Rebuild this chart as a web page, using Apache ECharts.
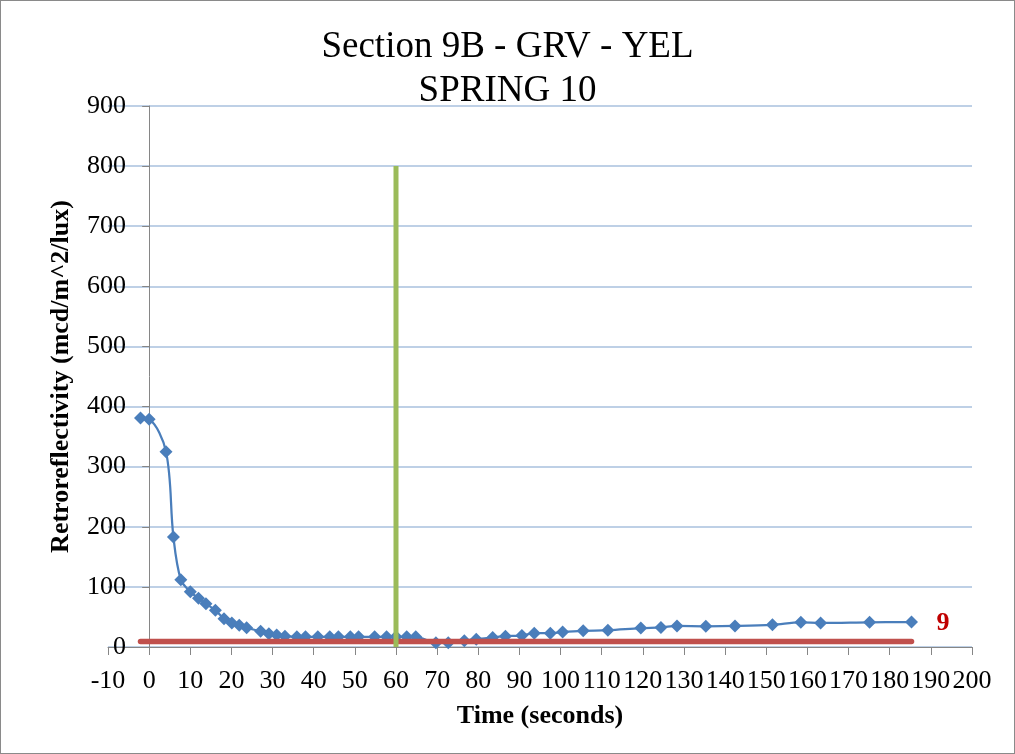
<!DOCTYPE html>
<html>
<head>
<meta charset="utf-8">
<script src="https://cdn.jsdelivr.net/npm/echarts@6/dist/echarts.min.js"></script>
<style>
  html, body { margin: 0; padding: 0; background: #fff; }
  #chart { width: 1015px; height: 754px; box-sizing: border-box; border: 1px solid #8a8a8a; }
</style>
</head>
<body>
<div id="chart"></div>
<script>
// ---- data ----
const titleLines = ["Section 9B - GRV - YEL", "SPRING 10"];
const xAxisTitle = "Time (seconds)";
const yAxisTitle = "Retroreflectivity (mcd/m^2/lux)";

const timeSeconds = [-2.1, 0, 4.1, 5.9, 7.7, 10.0, 12.0, 13.8, 16.1, 18.2, 20.1, 21.9, 23.7, 27.1, 29.1, 31.0,
  33.0, 35.9, 38.0, 41.0, 43.9, 46.0, 48.9, 50.9, 54.8, 57.7, 60.0, 62.6, 64.8, 69.7, 72.7, 76.6, 79.5,
  83.5, 86.6, 90.6, 93.6, 97.5, 100.5, 105.5, 111.5, 119.5, 124.4, 128.3, 135.3, 142.4, 151.5, 158.4,
  163.2, 175.1, 185.3];
const retroValues = [381, 379, 325, 183, 112, 92, 81, 72, 61, 47, 40, 36, 32, 26, 22, 20,
  18, 17, 17, 17, 17, 17, 17, 17, 17, 17, 17, 17, 17, 7, 7, 10.5, 13,
  16, 18, 19, 23, 23, 25, 27, 28, 31.5, 32.6, 35, 34.5, 35, 37, 41,
  40, 41, 41.5];

const thresholdValue = 9;
const thresholdX = [-2.1, 185.3];
const markerTime = 60;
const markerRange = [0, 800];

const xTicks = { min: -10, max: 200, interval: 10 };
const yTicks = { min: 0, max: 900, interval: 100 };

// ---- build chart ----
const serif = "Liberation Serif";
const chart = echarts.init(document.getElementById('chart'), null, { renderer: 'canvas' });

const blueData = timeSeconds.map((t, i) => [t, retroValues[i]]);
const redData = thresholdX.map(t => [t, thresholdValue]);
const greenData = markerRange.map(v => [markerTime, v]);

chart.setOption({
  animation: false,
  backgroundColor: '#ffffff',
  title: {
    text: titleLines.join('\n'),
    left: 'center',
    top: 19,
    textStyle: { fontFamily: serif, fontSize: 37, fontWeight: 'normal', color: '#000', lineHeight: 44 }
  },
  grid: { left: 107, right: 42, top: 105, bottom: 106, containLabel: false, outerBoundsMode: 'none' },
  xAxis: {
    type: 'value',
    min: xTicks.min, max: xTicks.max, interval: xTicks.interval,
    name: xAxisTitle,
    nameLocation: 'middle',
    nameGap: 56,
    nameTextStyle: { fontFamily: serif, fontSize: 26, fontWeight: 'bold', color: '#000' },
    axisLine: { show: true, lineStyle: { color: '#868686', width: 1 } },
    axisTick: { show: true, length: 8, lineStyle: { color: '#868686' } },
    axisLabel: { fontFamily: serif, fontSize: 26, color: '#000', margin: 21 },
    splitLine: { show: false }
  },
  yAxis: {
    type: 'value',
    min: yTicks.min, max: yTicks.max, interval: yTicks.interval,
    name: yAxisTitle,
    nameLocation: 'middle',
    nameGap: 34,
    nameRotate: 90,
    nameTextStyle: { fontFamily: serif, fontSize: 26, fontWeight: 'bold', color: '#000' },
    axisLine: { show: true, onZero: true, lineStyle: { color: '#868686', width: 1 } },
    axisTick: { show: true, length: 7, lineStyle: { color: '#868686' } },
    axisLabel: { fontFamily: serif, fontSize: 26, color: '#000', margin: -18 },
    splitLine: { show: true, lineStyle: { color: '#A9C0DE', width: 1.5 } }
  },
  series: [
    {
      type: 'line',
      data: blueData,
      smooth: 0.35,
      symbol: 'diamond',
      symbolSize: 13,
      showSymbol: true,
      lineStyle: { color: '#4A7EBB', width: 2.25 },
      itemStyle: { color: '#4A7EBB' },
      z: 2
    },
    {
      type: 'line',
      data: redData,
      showSymbol: false,
      symbol: 'none',
      lineStyle: { color: '#C0504D', width: 5.5, cap: 'round' },
      itemStyle: { color: '#C0504D' },
      endLabel: {
        show: true,
        formatter: () => String(thresholdValue),
        fontFamily: serif, fontSize: 26, fontWeight: 'bold', color: '#C00000',
        distance: 25, offset: [0, -18]
      },
      z: 3
    },
    {
      type: 'line',
      data: greenData,
      showSymbol: false,
      symbol: 'none',
      lineStyle: { color: '#9BBB59', width: 5 },
      itemStyle: { color: '#9BBB59' },
      z: 4
    }
  ]
});
</script>
</body>
</html>
